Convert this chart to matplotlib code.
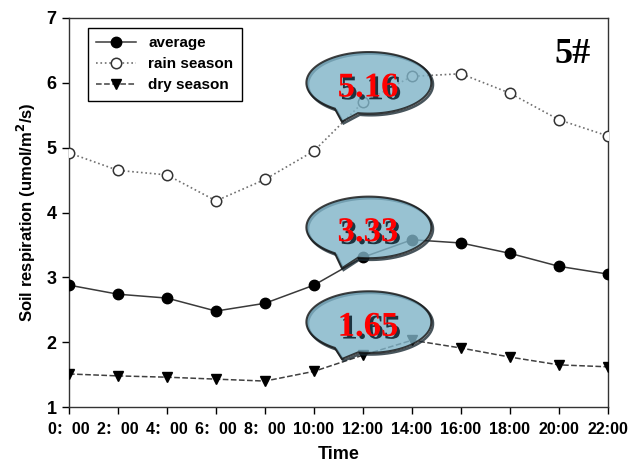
import numpy as np
import matplotlib.pyplot as plt
from matplotlib.path import Path
from matplotlib.patches import PathPatch
import matplotlib.patheffects as pe

plt.rcParams['font.family'] = ['Liberation Sans', 'Noto Sans CJK SC', 'DejaVu Sans']

# hours of the day
horas = [0, 2, 4, 6, 8, 10, 12, 14, 16, 18, 20, 22]
etiquetas = ['0\uff1a00', '2\uff1a00', '4\uff1a00', '6\uff1a00', '8\uff1a00',
             '10:00', '12:00', '14:00', '16:00', '18:00', '20:00', '22:00']

# soil respiration (umol/m2/s)
promedio = [2.88, 2.74, 2.68, 2.48, 2.60, 2.88, 3.31, 3.58, 3.53, 3.37, 3.17, 3.05]
lluvia = [4.92, 4.65, 4.58, 4.18, 4.51, 4.95, 5.70, 6.10, 6.14, 5.84, 5.43, 5.18]
seca = [1.51, 1.48, 1.46, 1.43, 1.40, 1.55, 1.80, 2.03, 1.91, 1.77, 1.65, 1.62]

# daily means shown in the callouts
medias = [5.16, 3.33, 1.65]


def globo(ax, cx, cy, w, h, punta):
    # ellipse with a small tail, built as a single path
    a, b = w / 2.0, h / 2.0
    t1, t2 = np.radians(237), np.radians(260)
    th = np.linspace(t2, t1 + 2 * np.pi, 120)
    xs = list(cx + a * np.cos(th)) + [punta[0], cx + a * np.cos(t2)]
    ys = list(cy + b * np.sin(th)) + [punta[1], cy + b * np.sin(t2)]
    verts = list(zip(xs, ys))
    codes = [Path.MOVETO] + [Path.LINETO] * (len(verts) - 2) + [Path.CLOSEPOLY]
    p = PathPatch(Path(verts, codes), facecolor='#7fb3c7', edgecolor='#111111',
                  lw=1.5, alpha=0.8, zorder=5)
    p.set_path_effects([pe.SimpleLineShadow(offset=(1.2, -1.2), shadow_color='#1a2a33',
                                            alpha=0.8, linewidth=1.8),
                        pe.Normal()])
    ax.add_patch(p)


fig = plt.figure(figsize=(6.29, 4.65), dpi=100)
ax = fig.add_axes([0.1097, 0.1247, 0.8569, 0.8366])

ax.plot(horas, promedio, '-', color='#3a3a3a', lw=1.1, marker='o', ms=7.5,
        mfc='black', mec='black', label='average', zorder=3)
ax.plot(horas, lluvia, ':', color='#707070', lw=1.2, marker='o', ms=7.5,
        mfc='white', mec='#333333', mew=1.1, label='rain season', zorder=3)
ax.plot(horas, seca, '--', color='#404040', lw=1.1, marker='v', ms=7.5,
        mfc='black', mec='black', label='dry season', zorder=3)

# callouts with daily means
centros_y = [6.0, 3.77, 2.31]
puntas_y = [5.40, 3.14, 1.74]
for m, cy, py in zip(medias, centros_y, puntas_y):
    globo(ax, 12.24, cy, 5.1, 0.95, (11.14, py))
    ax.text(12.2, cy - 0.08, '%.2f' % m, color='#ff0000', fontsize=25,
            fontweight='bold', family='Liberation Serif', ha='center', va='center',
            zorder=6,
            path_effects=[pe.withSimplePatchShadow(offset=(2, -2), shadow_rgbFace='#1c3440',
                                                   alpha=1.0)])

ax.text(0.967, 0.905, '5#', transform=ax.transAxes, fontsize=26, fontweight='bold',
        family='Liberation Serif', ha='right', va='center')

ax.set_xlim(0, 22)
ax.set_ylim(1, 7)
ax.set_xticks(horas)
ax.set_xticklabels(etiquetas)
ax.set_yticks(range(1, 8))
ax.tick_params(axis='x', direction='out', length=5, width=1, labelsize=11.5, pad=6)
ax.tick_params(axis='y', direction='out', length=5, width=1, labelsize=13, pad=4)
for t in ax.get_xticklabels() + ax.get_yticklabels():
    t.set_fontweight('bold')
for s in ax.spines.values():
    s.set_color('#333333')
    s.set_linewidth(1.0)

ax.set_xlabel('Time', fontsize=13, fontweight='bold', labelpad=6)
ax.set_ylabel('Soil respiration (umol/m$^\\mathbf{2}$/s)', fontsize=12,
              fontweight='bold', labelpad=6)

leg = ax.legend(loc='upper left', bbox_to_anchor=(0.021, 0.994), fancybox=False,
                edgecolor='black', framealpha=1, prop={'weight': 'bold', 'size': 11},
                handlelength=2.6, borderpad=0.55, labelspacing=0.45)
leg.get_frame().set_linewidth(1.0)

fig.savefig('out.png', dpi=100)
